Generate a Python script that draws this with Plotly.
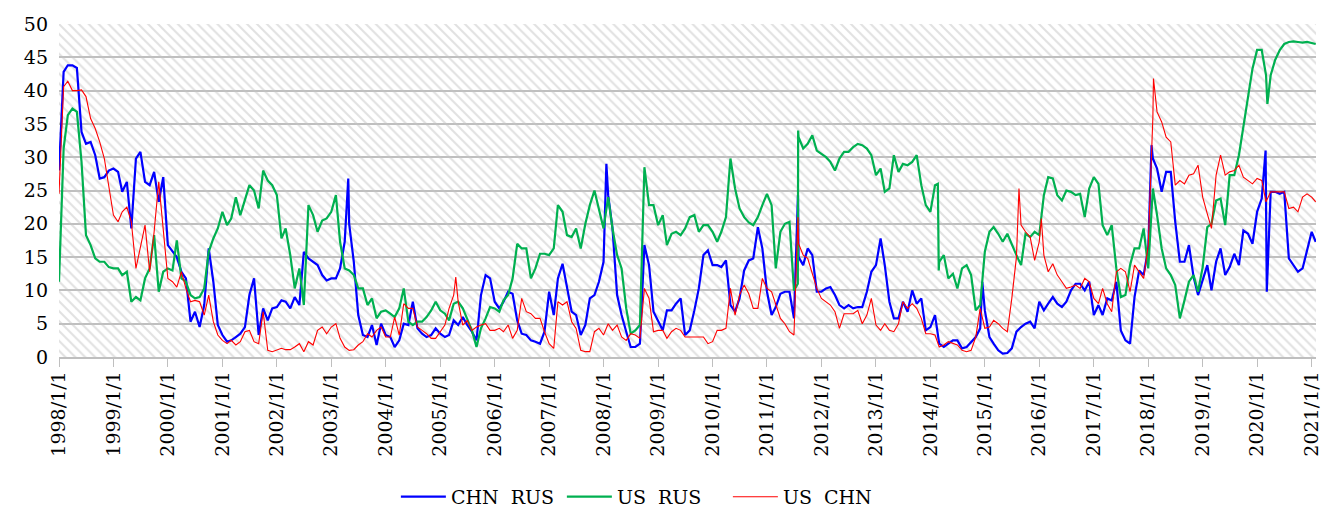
import pandas as pd
import plotly.graph_objects as go

# ---------------- data (monthly readings, 1998/1 .. 2021/1) ----------------
months = pd.date_range("1998-01-01", "2021-01-01", freq="MS")

chn_rus = [
    28, 42.8, 43.8, 43.8, 43.4, 33.8, 32, 32.3, 30.3, 26.8, 27, 28,            # 1998
    28.3, 27.8, 24.8, 26.3, 19.3, 29.8, 30.8, 26.3, 25.8, 27.8, 23.3, 27,      # 1999
    16.8, 15.8, 15, 12.8, 11.8, 5.3, 6.8, 4.5, 7.8, 16.3, 11.3, 4.8,           # 2000
    3.3, 2.3, 2.5, 3, 3.5, 4.5, 9.3, 11.8, 3.3, 7.3, 5.5, 7.3,                 # 2001
    7.5, 8.5, 8.3, 7.3, 9, 7.8, 15.8, 14.8, 14.3, 13.8, 12.3, 11.5,            # 2002
    11.8, 11.8, 13.3, 17.3, 20, 14.3, 6.3, 3.3, 3, 4.8, 1.8, 5,                # 2003
    3.3, 3, 1.5, 2.5, 5, 4.8, 8.3, 4.3, 3.5, 3, 3.3, 4.3,                      # 2004
    3.5, 3, 3.3, 5.5, 4.8, 6, 4.8, 3.8, 2.5, 9.3, 12.3, 11.8,                  # 2005
    8.3, 7.3, 8.3, 9.8, 9.5, 5.5, 3.5, 3.3, 2.5, 2.3, 2, 3.8,                  # 2006
    9.8, 6.3, 11.8, 14, 10.3, 6.8, 6.3, 3.3, 4.8, 8.8, 9.3, 11.3,              # 2007
    14.3, 24.3, 19.3, 9.3, 6.3, 3.8, 1.5, 1.5, 2, 16.8, 13.8, 6.8,             # 2008
    5.5, 4, 7, 7, 8, 8.8, 3.3, 4, 7, 10.3, 15.3, 16,                           # 2009
    13.8, 13.8, 13.5, 14.5, 7.8, 6.8, 8.8, 13, 14.5, 14.8, 19.5, 16.3,         # 2010
    9.8, 6.3, 7.5, 9.5, 9.8, 9.8, 5.8, 15, 13.8, 16.3, 15.3, 9.8,              # 2011
    9.8, 10.3, 10.5, 9.3, 7.8, 7.3, 7.8, 7.3, 7.5, 7.5, 9.8, 12.8,             # 2012
    13.8, 17.8, 13.8, 8.3, 5.8, 5.8, 8.3, 6.8, 10, 8, 8.8, 4,                  # 2013
    4.5, 6.3, 2, 1.5, 2, 2.5, 2.5, 1.3, 1.5, 2.3, 3, 4.3,                      # 2014
    7, 3, 2, 1, 0.5, 0.6, 1.3, 3.8, 4.5, 5, 5.3, 4.3,                          # 2015
    8.3, 7, 8, 9, 8, 7.5, 8.3, 10, 11, 11, 10, 11.3,                           # 2016
    6.3, 7.8, 6.3, 8.8, 8.5, 11.3, 4, 2.5, 2, 9, 13, 12.3,                     # 2017
    16.3, 29.8, 28.3, 24.8, 27.8, 27.8, 20.3, 14.3, 14.3, 16.8, 12, 9.3,       # 2018
    11.5, 13.8, 10, 14.3, 16.3, 12.3, 13.5, 15.5, 13.8, 19, 18.5, 17,          # 2019
    21.8, 23.8, 21.3, 24.8, 24.8, 24.5, 24.8, 14.8, 13.8, 12.8, 13.3, 15.8,    # 2020
    18.8,                                                                       # 2021
]
chn_rus_extra_dates = ["2003-04-25", "2008-01-20", "2011-07-28", "2014-12-15",
                       "2018-01-23", "2020-02-27", "2020-03-06", "2021-01-28"]
chn_rus_extra_vals = [26.8, 29, 24.3, 11.3, 31.8, 31, 9.8, 17.3]

us_rus = [
    11.3, 31.3, 36.3, 37.3, 36.8, 29.3, 18.3, 16.8, 14.8, 14.3, 14.3, 13.5,    # 1998
    13.3, 13.3, 12.3, 12.8, 8.3, 9, 8.5, 11.8, 13.3, 18.3, 9.8, 12.8,          # 1999
    13.3, 13, 17.5, 11.8, 11.3, 9.3, 8.8, 9, 10.3, 15.8, 17.8, 19.3,           # 2000
    21.8, 19.8, 20.8, 24, 21.3, 23.5, 25.8, 25, 22.3, 28, 26.5, 25.8,          # 2001
    24.3, 17.8, 19.3, 15.3, 10.3, 13.3, 7.8, 22.8, 21.3, 18.8, 20.5, 20.8,     # 2002
    21.8, 24.3, 17.3, 13.3, 13, 12.3, 10.3, 10.3, 7.8, 8.8, 5.8, 6.8,          # 2003
    7, 6.5, 6, 7.3, 10.3, 5.3, 4.8, 5.3, 5.3, 6, 7, 8.3,                       # 2004
    7, 6.5, 5.5, 8, 8.3, 7.3, 5.8, 4, 1.5, 4.3, 5.8, 7.5,                      # 2005
    7.3, 6.8, 8.5, 9.3, 11.8, 17, 16.3, 16.3, 11.8, 13.3, 15.5, 15.5,          # 2006
    15.3, 16.3, 22.8, 21.8, 18.3, 18, 19.3, 16.3, 20, 22.8, 25, 22.3,          # 2007
    19.3, 24, 19.3, 15.3, 13.3, 7.3, 3.5, 4, 4.8, 28.5, 22.8, 22.8,            # 2008
    19.8, 21.3, 16.8, 18.5, 18.8, 18.3, 19.3, 21, 21.3, 18.8, 19.8, 19.8,      # 2009
    18.8, 17.3, 18.8, 21, 29.8, 25.3, 22.3, 21, 20.2, 19.8, 21, 22.8,          # 2010
    24.5, 22.8, 13.3, 18.8, 20, 20.3, 10, 33, 31.3, 32, 33.3, 31,              # 2011
    30.5, 30, 29.3, 28, 29.8, 30.8, 30.8, 31.5, 32, 31.8, 31.3, 30.3,          # 2012
    27.3, 28.3, 24.8, 25.3, 30.3, 27.8, 29, 28.8, 29.3, 30.3, 25.8, 22.8,      # 2013
    21.8, 25.8, 14.3, 15.3, 11.8, 12.5, 10.3, 13.3, 13.8, 12.3, 7, 7.8,        # 2014
    15.8, 18.8, 19.5, 18.5, 17.3, 18.5, 16.8, 15.3, 13.8, 18.5, 18, 18.8,      # 2015
    18.3, 24.3, 27, 26.8, 24.3, 23.5, 25, 24.8, 24.3, 24.5, 21, 25.3,          # 2016
    27, 26, 19.8, 18.3, 19.8, 13.3, 9, 9.3, 13.8, 16.3, 16.3, 19.3,            # 2017
    13.3, 25.3, 21.3, 16.3, 13.3, 12.3, 10.8, 5.8, 8.5, 11.3, 12.3, 9.8,       # 2018
    13.5, 19.5, 20, 23.5, 23.8, 19.8, 27.3, 27.3, 30.3, 34.8, 38.8, 43.3,      # 2019
    46.1, 46.1, 42.3, 42.3, 44.6, 46.1, 47, 47.3, 47.4, 47.3, 47.2, 47.3,      # 2020
    47.1,                                                                       # 2021
]
us_rus_extra_dates = ["2011-07-27", "2011-07-29", "2014-02-20", "2014-02-26",
                      "2020-03-10", "2021-01-28"]
us_rus_extra_vals = [11, 34, 26, 13, 38, 47]

us_chn = [
    24.5, 40.6, 41.4, 40, 40, 40.1, 39.1, 35.8, 34.3, 32.3, 29.8, 25.3,        # 1998
    21.3, 20.3, 21.8, 22.5, 20.3, 13.3, 16.3, 19.8, 12.8, 18.8, 26.3, 19.3,    # 1999
    11.8, 11.3, 10.5, 12.8, 10.3, 8.3, 8.5, 8.3, 6.3, 9.3, 5.3, 3.3,           # 2000
    2.5, 2, 2.5, 1.8, 2.3, 3.8, 4, 2.3, 2, 6.8, 1, 0.8,                        # 2001
    1, 1.3, 1.1, 1.1, 1.5, 2, 0.8, 2.3, 1.8, 4, 4.5, 3.5,                      # 2002
    4.5, 5, 2.8, 1.5, 1, 1.1, 1.8, 2.3, 3.5, 3, 4, 4.5,                        # 2003
    3, 3, 6, 3.3, 8, 7.3, 7.3, 4.5, 4, 3.5, 2.8, 2.8,                          # 2004
    3.8, 4.8, 7.3, 9.3, 8.3, 4.8, 5.5, 4, 4.5, 4.8, 5, 4,                      # 2005
    4, 4.3, 3.8, 4.8, 2.8, 4, 8.8, 6.8, 6.5, 5.8, 5.8, 3.8,                    # 2006
    2, 1.3, 8.3, 7.8, 8.3, 5.3, 4.3, 1, 0.8, 0.8, 3.8, 4.3,                    # 2007
    3.3, 5, 4, 4.8, 3, 2.5, 3.5, 3.3, 2.8, 10.3, 8.8, 3.8,                     # 2008
    4, 4, 2.8, 3.8, 4.3, 4, 3, 3, 3, 3, 3, 2,                                  # 2009
    2.3, 4, 4, 4.3, 10.3, 6.3, 9.3, 10.8, 9.5, 7.3, 7.3, 11.8,                 # 2010
    10.3, 9.8, 7.8, 5.8, 5, 3.8, 3.3, 17, 15.3, 14.8, 12.3, 10.3,              # 2011
    8.8, 8.3, 7.8, 6.8, 4.3, 6.5, 6.5, 6.5, 7, 5, 6.3, 8.8,                    # 2012
    4.8, 4, 5, 4, 3.8, 5, 8.3, 7.3, 8, 7.3, 5.8, 3.5,                          # 2013
    3.5, 3.3, 1.5, 1.8, 2.3, 2, 1.8, 1, 0.8, 1, 3, 7.3,                        # 2014
    4.3, 4.5, 5.5, 5, 4.3, 3.8, 8.8, 15, 19.8, 18.8, 18, 14.5,                 # 2015
    17.3, 15.3, 12.8, 14, 12.3, 11.3, 10.3, 10.5, 10.8, 10.3, 11.8, 11.3,      # 2016
    8.8, 8, 10.3, 8, 6.8, 12.8, 13.3, 12.8, 9.8, 13.8, 12.8, 11.8,             # 2017
    16.8, 36, 36.8, 35.3, 33, 32.3, 25.8, 26.5, 26, 27.3, 27.5, 28.8,          # 2018
    24, 21.5, 19.3, 27.3, 30.3, 27.3, 27.8, 28, 28.8, 27, 26.5, 26,            # 2019
    26.8, 26.5, 23.3, 24.8, 24.8, 24.8, 24.8, 22.3, 22.5, 21.8, 24, 24.5,      # 2020
    24,                                                                         # 2021
]
us_chn_extra_dates = ["2005-04-15", "2011-07-28", "2015-08-18", "2016-01-15",
                      "2018-02-05", "2021-01-28"]
us_chn_extra_vals = [12, 21, 25.3, 20.8, 41.8, 23.3]

tick_years = list(range(1998, 2022))
tick_labels = [f"{y}/1/1" for y in tick_years]
series_names = ["CHN\u00a0\u00a0RUS", "US\u00a0\u00a0RUS", "US\u00a0\u00a0CHN"]

# ---------------- helpers ----------------
def build(base, extra_dates, extra_vals):
    s = pd.Series(base, index=months, dtype=float)
    e = pd.Series(extra_vals, index=pd.to_datetime(extra_dates), dtype=float)
    return pd.concat([s, e]).sort_index()

x_start, x_end = "1998-01-01", "2021-01-30"
y_min, y_max = 0, 50

fig = go.Figure()

# hatched plot-area background
fig.add_trace(go.Scatter(
    x=[x_start, x_end, x_end, x_start, x_start],
    y=[y_min, y_min, y_max, y_max, y_min],
    mode="lines", line=dict(width=0), fill="toself",
    fillcolor="rgba(0,0,0,0)",
    fillpattern=dict(shape="\\", fgcolor="#C4C4C4", size=7, solidity=0.3),
    hoverinfo="skip", showlegend=False,
))

styles = [
    ("#0000FF", 2.2),
    ("#00B050", 2.2),
    ("#FF0000", 1.1),
]
datasets = [
    build(chn_rus, chn_rus_extra_dates, chn_rus_extra_vals),
    build(us_rus, us_rus_extra_dates, us_rus_extra_vals),
    build(us_chn, us_chn_extra_dates, us_chn_extra_vals),
]
for name, s, (col, w) in zip(series_names, datasets, styles):
    fig.add_trace(go.Scatter(x=s.index, y=s.values, mode="lines", name=name,
                             line=dict(color=col, width=w)))

FONT = "DejaVu Serif"
fig.update_layout(
    width=1322, height=510,
    margin=dict(l=59, r=6, t=24, b=153, autoexpand=False),
    paper_bgcolor="white", plot_bgcolor="white",
    font=dict(family=FONT, size=19, color="black"),
    legend=dict(orientation="h", x=0.268, xanchor="left", y=-0.42,
                yanchor="middle", font=dict(family=FONT, size=19),
                itemwidth=45, entrywidth=106, entrywidthmode="pixels"),
)
fig.update_xaxes(
    type="date", range=[x_start, x_end], automargin=False,
    tickvals=[f"{y}-01-01" for y in tick_years], ticktext=tick_labels,
    tickangle=-90, ticks="outside", ticklen=8, tickcolor="#BFBFBF",
    showgrid=False, showline=True, linecolor="#BFBFBF", linewidth=1.5,
    tickfont=dict(family=FONT, size=19), ticklabelstandoff=-3,
)
fig.update_yaxes(
    range=[y_min, y_max], tick0=0, dtick=5, automargin=False,
    showgrid=True, gridcolor="#BFBFBF", gridwidth=2,
    zeroline=False, showline=False, ticks="", ticklabelstandoff=10,
    tickfont=dict(family=FONT, size=19),
)

fig.write_html("out.html",
               config={"displayModeBar": False},
               post_script="document.body.style.margin='0';"
                           "document.body.style.overflow='hidden';")
